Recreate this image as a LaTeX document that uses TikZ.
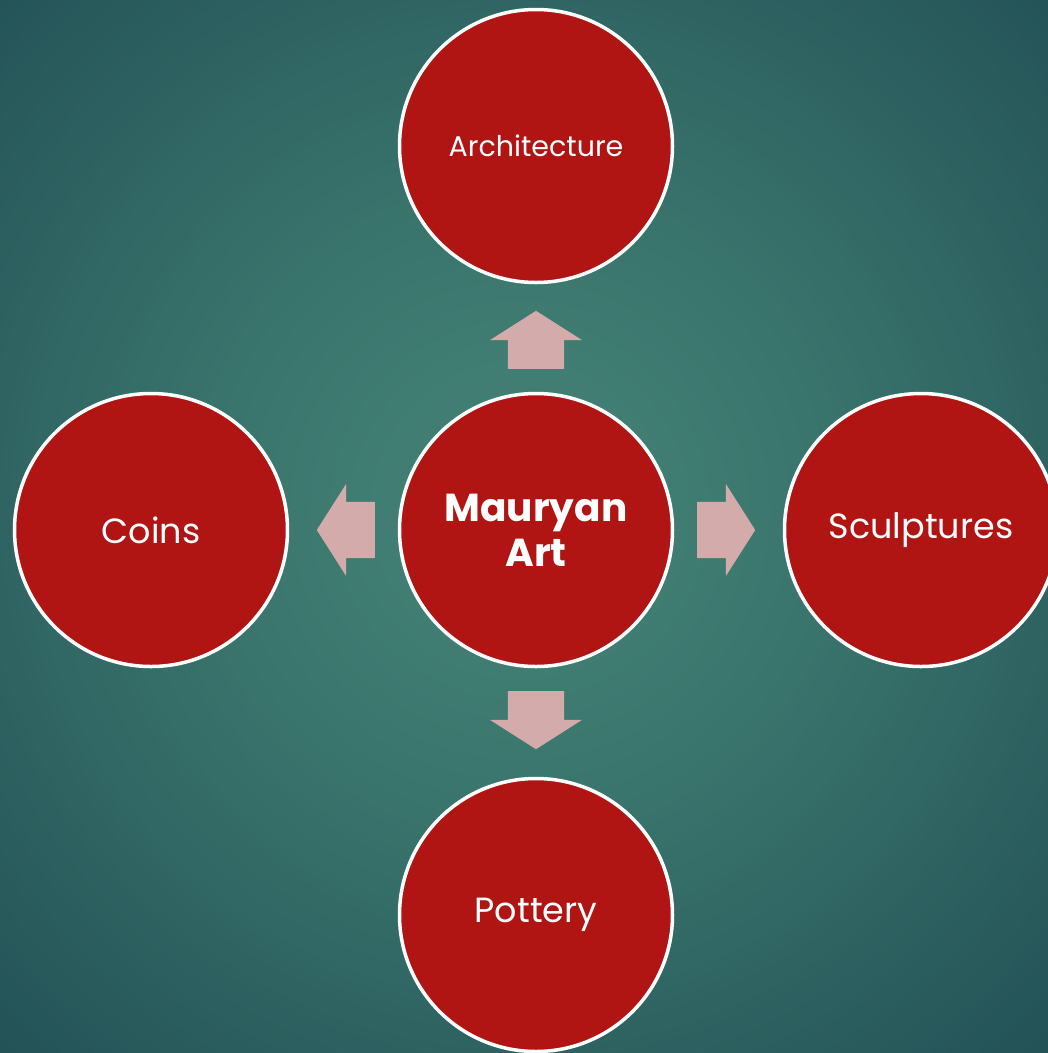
\documentclass[tikz,border=0pt]{standalone}
\usepackage{fontspec}
\setmainfont{Poppins}
\usetikzlibrary{calc,shapes.arrows}
\definecolor{bgin}{HTML}{427F73}
\definecolor{bgmid}{HTML}{3B766E}
\definecolor{bgout}{HTML}{2F6462}
\definecolor{bgedge}{HTML}{235257}
\definecolor{mauryared}{HTML}{B01513}
\definecolor{arrowpink}{HTML}{D4ABAB}

\begin{document}
\begin{tikzpicture}[x=1pt,y=-1pt,
  topic/.style={circle,draw=white,line width=3.5pt,fill=mauryared,minimum size=273pt,inner sep=0pt,text=white,align=center,font=\fontsize{35}{40}\selectfont},
  pointer/.style={single arrow,draw=none,fill=arrowpink,inner xsep=0pt,inner ysep=28pt,minimum height=58pt,single arrow head extend=18pt,single arrow tip angle=115,anchor=tail}]
\useasboundingbox (0,0) rectangle (1048,1053);
\clip (0,0) rectangle (1048,1053);
% background glow
\coordinate (bgc) at (520,510);
\foreach \r in {780,770,...,520}{\pgfmathtruncatemacro\t{min(100,(\r-520)/2.4)}\fill[bgedge!\t!bgout] (bgc) circle[radius=\r];}
\foreach \r in {510,500,...,290}{\pgfmathtruncatemacro\t{max(0,(\r-290)/2.3)}\fill[bgout!\t!bgmid] (bgc) circle[radius=\r];}
\foreach \r in {280,270,...,100}{\pgfmathtruncatemacro\t{max(0,(\r-100)/1.8)}\fill[bgmid!\t!bgin] (bgc) circle[radius=\r];}
% circles
\node[topic,font=\fontsize{39}{45}\selectfont\bfseries] (art) at (536,530) {Mauryan\\Art};
\node[topic,font=\fontsize{28.5}{30}\selectfont] (arch) at (536,146) {Architecture};
\node[topic] (coins) at (151,530) {Coins};
\node[topic] (sculpt) at (921,530) {Sculptures};
\node[topic] (pottery) at (536,915) {Pottery};
% block arrows
\node[pointer,rotate=90] (toarch) at ($(art)!161pt!(arch)$) {};
\node[pointer,rotate=180] (tocoins) at ($(art)!161pt!(coins)$) {};
\node[pointer] (tosculpt) at ($(art)!161pt!(sculpt)$) {};
\node[pointer,rotate=-90] (topottery) at ($(art)!161pt!(pottery)$) {};
\end{tikzpicture}
\end{document}
